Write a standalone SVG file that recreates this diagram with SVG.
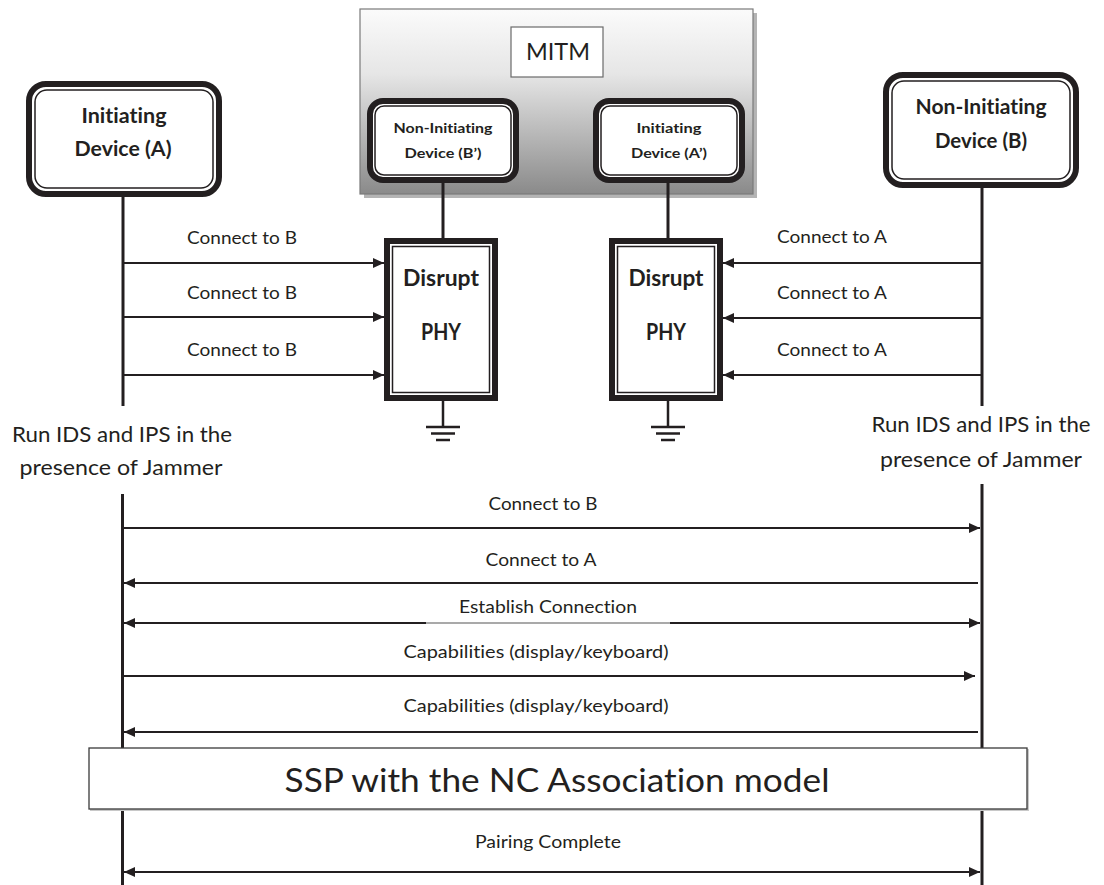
<svg xmlns="http://www.w3.org/2000/svg" width="1104" height="885" viewBox="0 0 1104 885">
  <style>
    text { font-family: Lato, "Open Sans", "Liberation Sans", sans-serif; fill: #231f20; text-anchor: middle; font-variant-ligatures: none; }
    .b { font-weight: bold; }
    .lbl { font-size: 18px; }
    .note { font-size: 21px; }
    .outer { fill: #ffffff; stroke: #231f20; stroke-width: 6; }
    .inner { fill: none; stroke: #231f20; stroke-width: 1.5; }
    .life { stroke: #231f20; stroke-width: 3; fill: none; }
    .msg { stroke: #231f20; stroke-width: 2; fill: none; }
    .gnd { stroke: #231f20; stroke-width: 2.5; fill: none; }
  </style>
  <defs>
    <linearGradient id="mitmFill" x1="0" y1="0" x2="0" y2="1">
      <stop offset="0" stop-color="#fbfbfb"/>
      <stop offset="0.35" stop-color="#e6e6e6"/>
      <stop offset="1" stop-color="#8a8a8a"/>
    </linearGradient>
    <marker id="arr" markerUnits="userSpaceOnUse" viewBox="0 0 11 10" refX="11" refY="5" markerWidth="11" markerHeight="10" orient="auto-start-reverse">
      <path d="M0,0 L11,5 L0,10 z" fill="#231f20"/>
    </marker>
  </defs>

  <rect width="1104" height="885" fill="#ffffff"/>

  <!-- MITM container with drop shadow -->
  <g id="mitm">
    <rect x="364" y="13" width="393" height="185" fill="#b4b4b4"/>
    <rect x="360" y="9" width="393" height="185" fill="url(#mitmFill)" stroke="#7a7a7a" stroke-width="1.2"/>
    <rect x="511" y="27" width="92" height="50" fill="#ffffff" stroke="#6a6a6a" stroke-width="1.2"/>
    <text x="558" y="60" style="font-size:24px" textLength="64" lengthAdjust="spacingAndGlyphs">MITM</text>
  </g>

  <!-- Lifelines, message arrows and ground links -->
  <g id="connectors">
    <!-- lifelines -->
    <line class="life" x1="123" y1="197" x2="123" y2="406"/>
    <line class="life" x1="982" y1="188" x2="982" y2="406"/>
    <line class="life" x1="122.5" y1="494" x2="122.5" y2="885"/>
    <line class="life" x1="982" y1="484" x2="982" y2="885"/>
    <!-- MITM devices down to jammers -->
    <line class="life" x1="443" y1="183" x2="443" y2="238"/>
    <line class="life" x1="668" y1="183" x2="668" y2="238"/>
    <!-- jammer grounds -->
    <line class="gnd" x1="443" y1="401" x2="443" y2="427"/>
    <line class="gnd" x1="426" y1="427" x2="460" y2="427"/>
    <line class="gnd" x1="431" y1="433.5" x2="455" y2="433.5"/>
    <line class="gnd" x1="436" y1="440" x2="450" y2="440"/>
    <line class="gnd" x1="668" y1="401" x2="668" y2="427"/>
    <line class="gnd" x1="651" y1="427" x2="685" y2="427"/>
    <line class="gnd" x1="656" y1="433.5" x2="680" y2="433.5"/>
    <line class="gnd" x1="661" y1="440" x2="675" y2="440"/>
    <!-- A towards the jammer -->
    <line class="msg" x1="124" y1="263" x2="384" y2="263" marker-end="url(#arr)"/>
    <line class="msg" x1="124" y1="317" x2="384" y2="317" marker-end="url(#arr)"/>
    <line class="msg" x1="124" y1="375" x2="384" y2="375" marker-end="url(#arr)"/>
    <!-- B towards the jammer -->
    <line class="msg" x1="981" y1="263" x2="723" y2="263" marker-end="url(#arr)"/>
    <line class="msg" x1="981" y1="318" x2="723" y2="318" marker-end="url(#arr)"/>
    <line class="msg" x1="981" y1="375" x2="723" y2="375" marker-end="url(#arr)"/>
    <!-- direct exchange -->
    <line class="msg" x1="124" y1="528" x2="980" y2="528" marker-end="url(#arr)"/>
    <line class="msg" x1="978" y1="583" x2="124" y2="583" marker-end="url(#arr)"/>
    <line class="msg" x1="426" y1="623" x2="124" y2="623" marker-end="url(#arr)"/>
    <line x1="426" y1="623" x2="670" y2="623" stroke="#555555" stroke-width="1.2"/>
    <line class="msg" x1="670" y1="623" x2="980" y2="623" marker-end="url(#arr)"/>
    <line class="msg" x1="124" y1="676" x2="975" y2="676" marker-end="url(#arr)"/>
    <line class="msg" x1="978" y1="732" x2="124" y2="732" marker-end="url(#arr)"/>
    <line class="msg" x1="124" y1="872" x2="980" y2="872" marker-start="url(#arr)" marker-end="url(#arr)"/>
  </g>

  <!-- Initiating Device (A) -->
  <g id="device-a">
    <rect class="outer" x="29" y="84" width="190" height="110" rx="17"/>
    <rect class="inner" x="35" y="90" width="178" height="98" rx="12"/>
    <text class="b" x="124" y="123" style="font-size:21px" textLength="85" lengthAdjust="spacingAndGlyphs">Initiating</text>
    <text class="b" x="123" y="156" style="font-size:21px" textLength="97" lengthAdjust="spacingAndGlyphs">Device (A)</text>
  </g>

  <!-- Non-Initiating Device (B) -->
  <g id="device-b">
    <rect class="outer" x="886" y="75" width="190" height="110" rx="17"/>
    <rect class="inner" x="892" y="81" width="178" height="98" rx="12"/>
    <text class="b" x="981" y="114" style="font-size:21px" textLength="131" lengthAdjust="spacingAndGlyphs">Non-Initiating</text>
    <text class="b" x="981" y="148" style="font-size:21px" textLength="92" lengthAdjust="spacingAndGlyphs">Device (B)</text>
  </g>

  <!-- MITM side facing A -->
  <g id="device-b-prime">
    <rect class="outer" x="370" y="101" width="146" height="79" rx="13"/>
    <rect class="inner" x="375" y="106" width="136" height="69" rx="9"/>
    <text class="b" x="443" y="133" style="font-size:13.5px" textLength="99" lengthAdjust="spacingAndGlyphs">Non-Initiating</text>
    <text class="b" x="443" y="158" style="font-size:13.5px" textLength="77" lengthAdjust="spacingAndGlyphs">Device (B’)</text>
  </g>

  <!-- MITM side facing B -->
  <g id="device-a-prime">
    <rect class="outer" x="596" y="101" width="146" height="79" rx="13"/>
    <rect class="inner" x="601" y="106" width="136" height="69" rx="9"/>
    <text class="b" x="669" y="133" style="font-size:13.5px" textLength="65" lengthAdjust="spacingAndGlyphs">Initiating</text>
    <text class="b" x="669" y="158" style="font-size:13.5px" textLength="76" lengthAdjust="spacingAndGlyphs">Device (A’)</text>
  </g>

  <!-- Jammers -->
  <g id="disrupt-left">
    <rect class="outer" x="387" y="241" width="108" height="157"/>
    <rect class="inner" x="392.5" y="246.5" width="97" height="146"/>
    <text class="b" x="441" y="286" style="font-size:22px" textLength="76" lengthAdjust="spacingAndGlyphs">Disrupt</text>
    <text class="b" x="441" y="340" style="font-size:22px" textLength="40" lengthAdjust="spacingAndGlyphs">PHY</text>
  </g>
  <g id="disrupt-right">
    <rect class="outer" x="612" y="241" width="108" height="157"/>
    <rect class="inner" x="617.5" y="246.5" width="97" height="146"/>
    <text class="b" x="666" y="286" style="font-size:22px" textLength="75" lengthAdjust="spacingAndGlyphs">Disrupt</text>
    <text class="b" x="666" y="340" style="font-size:22px" textLength="40" lengthAdjust="spacingAndGlyphs">PHY</text>
  </g>

  <!-- Message labels -->
  <g id="labels">
    <text class="lbl" x="242" y="244" textLength="110" lengthAdjust="spacingAndGlyphs">Connect to B</text>
    <text class="lbl" x="242" y="299" textLength="110" lengthAdjust="spacingAndGlyphs">Connect to B</text>
    <text class="lbl" x="242" y="356" textLength="110" lengthAdjust="spacingAndGlyphs">Connect to B</text>
    <text class="lbl" x="832" y="243" textLength="110" lengthAdjust="spacingAndGlyphs">Connect to A</text>
    <text class="lbl" x="832" y="299" textLength="110" lengthAdjust="spacingAndGlyphs">Connect to A</text>
    <text class="lbl" x="832" y="356" textLength="110" lengthAdjust="spacingAndGlyphs">Connect to A</text>

    <text class="note" x="122" y="442" textLength="220" lengthAdjust="spacingAndGlyphs">Run IDS and IPS in the</text>
    <text class="note" x="121" y="475" textLength="203" lengthAdjust="spacingAndGlyphs">presence of Jammer</text>
    <text class="note" x="981" y="432" textLength="219" lengthAdjust="spacingAndGlyphs">Run IDS and IPS in the</text>
    <text class="note" x="981" y="467" textLength="202" lengthAdjust="spacingAndGlyphs">presence of Jammer</text>

    <text class="lbl" x="543" y="510" textLength="109" lengthAdjust="spacingAndGlyphs">Connect to B</text>
    <text class="lbl" x="541" y="566" textLength="111" lengthAdjust="spacingAndGlyphs">Connect to A</text>
    <text class="lbl" x="548" y="613" textLength="178" lengthAdjust="spacingAndGlyphs">Establish Connection</text>
    <text class="lbl" x="536" y="658" textLength="265" lengthAdjust="spacingAndGlyphs">Capabilities (display/keyboard)</text>
    <text class="lbl" x="536" y="712" textLength="265" lengthAdjust="spacingAndGlyphs">Capabilities (display/keyboard)</text>
    <text class="lbl" x="548" y="848" textLength="146" lengthAdjust="spacingAndGlyphs">Pairing Complete</text>
  </g>

  <!-- SSP phase banner -->
  <g id="ssp">
    <rect x="90" y="749" width="939" height="62" fill="#c8c8c8"/>
    <rect x="89" y="748" width="938" height="61" fill="#ffffff" stroke="#3a3a3a" stroke-width="1.3"/>
    <text x="557" y="792" style="font-size:32px" textLength="545" lengthAdjust="spacingAndGlyphs">SSP with the NC Association model</text>
  </g>
</svg>
